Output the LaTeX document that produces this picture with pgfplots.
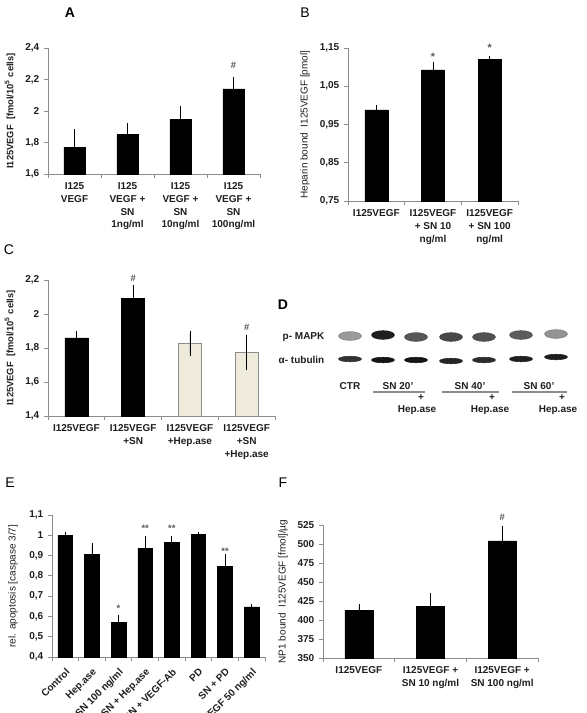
\documentclass[border=0pt]{standalone}
\usepackage{fontspec}
\setmainfont{Liberation Sans}
\usepackage{pgfplots}
\pgfplotsset{compat=1.18}

\definecolor{beige}{HTML}{EEEADC}
\definecolor{axgray}{HTML}{8C8C8C}
\definecolor{txt}{HTML}{1E1E1E}
\definecolor{annot}{HTML}{555555}

\pgfplotsset{
  panel/.style={
    scale only axis, anchor=south west, clip=false,
    axis x line*=bottom, axis y line*=left,
    axis line style={axgray, line width=0.6pt},
    tick align=outside,
    major tick length=3pt, minor tick length=3pt,
    every tick/.style={axgray, line width=0.6pt},
    major x tick style={draw=none},
    tick label style={font=\bfseries\fontsize{7.5}{9.5}\selectfont, text=txt},
    /pgf/number format/use comma,
    /pgf/number format/assume math mode=true,
    xticklabel style={align=center},
    xmin=0.5,
    ylabel style={anchor=center, text=txt},
  },
  mybar/.style={ybar, bar shift=0pt, bar width=#1, fill=black, draw=black,
    error bars/y dir=plus, error bars/y explicit,
    error bars/error bar style={black, line width=0.5pt},
    error bars/error mark options={black, mark size=1.6pt, line width=0.5pt}},
}

\begin{document}
\begin{tikzpicture}
\useasboundingbox (0,0) rectangle (439.5pt,-534.75pt);
\clip (0,0) rectangle (439.5pt,-534.75pt);

% ---------------- A ----------------
\begin{axis}[panel, at={(36pt,-130.5pt)}, width=159pt, height=94.5pt,
  xmax=4.5, ymin=1.6, ymax=2.4, ytick={1.6,1.8,2,2.2,2.4},
  xtick={1,2,3,4}, minor xtick={0.5,1.5,2.5,3.5,4.5},
  xticklabels={{I125\\VEGF},{I125\\VEGF +\\SN\\1ng/ml},{I125\\VEGF +\\SN\\10ng/ml},{I125\\VEGF +\\SN\\100ng/ml}},
  ylabel={I125VEGF\ \ [fmol/10\textsuperscript{5} cells]},
  ylabel style={at={(axis description cs:-0.179,0.5)}, font=\bfseries\fontsize{7}{8}\selectfont},
]
\addplot[mybar=15.75pt] coordinates {(1,1.77) +- (0,0.10) (2,1.85) +- (0,0.06) (3,1.945) +- (0,0.075) (4,2.14) +- (0,0.065)};
\node[font=\bfseries\fontsize{7}{8}\selectfont, text=annot] at (axis cs:4,2.29) {\#};
\end{axis}

% ---------------- B ----------------
\begin{axis}[panel, at={(261pt,-150.75pt)}, width=127.5pt, height=114.75pt,
  xmax=3.5, ymin=0.75, ymax=1.15, ytick={0.75,0.85,0.95,1.05,1.15},
  xtick={1,2,3}, minor xtick={0.5,1.5,2.5,3.5},
  xticklabels={{I125VEGF},{I125VEGF\\+ SN 10\\ng/ml},{I125VEGF\\+ SN 100\\ng/ml}},
  ylabel={Heparin bound\ \ I125VEGF [pmol]},
  ylabel style={at={(axis description cs:-0.253,0.5)}, font=\fontsize{7.5}{8}\selectfont},
]
\addplot[mybar=17.25pt] coordinates {(1,0.988) +- (0,0.008) (2,1.093) +- (0,0.014) (3,1.12) +- (0,0.004)};
\node[font=\bfseries\fontsize{8}{8}\selectfont, text=annot] at (axis cs:2,1.127) {*};
\node[font=\bfseries\fontsize{8}{8}\selectfont, text=annot] at (axis cs:3,1.15) {*};
\end{axis}

% ---------------- C ----------------
\begin{axis}[panel, at={(36pt,-312pt)}, width=170.25pt, height=102pt,
  xmax=4.5, ymin=1.4, ymax=2.2, ytick={1.4,1.6,1.8,2,2.2},
  xtick={1,2,3,4}, minor xtick={0.5,1.5,2.5,3.5,4.5},
  xticklabels={{I125VEGF},{I125VEGF\\+SN},{I125VEGF\\+Hep.ase},{I125VEGF\\+SN\\+Hep.ase}},
  ylabel={I125VEGF\ \ [fmol/10\textsuperscript{5} cells]},
  ylabel style={at={(axis description cs:-0.167,0.5)}, font=\bfseries\fontsize{7}{8}\selectfont},
]
\addplot[mybar=17.25pt] coordinates {(1,1.86) +- (0,0.03) (2,2.09) +- (0,0.07)};
\addplot[mybar=17.25pt, fill=beige, draw=axgray, error bars/y dir=both] coordinates {(3,1.825) +- (0,0.06) (4,1.775) +- (0,0.09)};
\node[font=\bfseries\fontsize{7}{8}\selectfont, text=annot] at (axis cs:2,2.21) {\#};
\node[font=\bfseries\fontsize{7}{8}\selectfont, text=annot] at (axis cs:4,1.92) {\#};
\end{axis}

% ---------------- D (blot) ----------------
\begin{axis}[scale only axis, anchor=south west, at={(247.5pt,-311.25pt)},
  width=187.5pt, height=71.25pt, hide axis, clip=false,
  xmin=330, xmax=580, ymin=320, ymax=415, y dir=reverse,
  colormap={blot}{gray(0cm)=(0.08); gray(1cm)=(0.88)},
  point meta min=0, point meta max=1]
% p-MAPK bands
\addplot[scatter, only marks, mark=*, scatter src=explicit, mark size=2.6pt,
  mark options={xscale=3.3, yscale=1.25}] table[meta=c] {
x y c
350 336 0.65
383 335 0.05
416 337 0.32
451 337 0.25
484 337 0.30
521 335 0.35
556 334 0.62
};
% alpha-tubulin bands
\addplot[scatter, only marks, mark=*, scatter src=explicit, mark size=2.6pt,
  mark options={xscale=3.3, yscale=0.8}] table[meta=c] {
x y c
350 359 0.15
383 360 0.0
416 360 0.0
451 361 0.08
484 360 0.12
521 359 0.05
556 357 0.05
};
\addplot[axgray, line width=0.9pt, no marks] coordinates {(373,392) (425,392)};
\addplot[axgray, line width=0.9pt, no marks] coordinates {(442,392) (499,392)};
\addplot[axgray, line width=0.9pt, no marks] coordinates {(512,392) (567,392)};
\begin{scope}[every node/.style={font=\bfseries\fontsize{7.5}{9}\selectfont, text=txt}]
\node at (axis cs:350,386) {CTR};
\node at (axis cs:398,386) {SN 20'};
\node at (axis cs:470,386) {SN 40'};
\node at (axis cs:539,386) {SN 60'};
\node at (axis cs:421,398) {+};
\node at (axis cs:492,398) {+};
\node at (axis cs:562,398) {+};
\node at (axis cs:417,410) {Hep.ase};
\node at (axis cs:490,410) {Hep.ase};
\node at (axis cs:558,410) {Hep.ase};
\end{scope}
\end{axis}

% ---------------- E ----------------
\begin{axis}[panel, at={(39pt,-492.75pt)}, width=159.75pt, height=106.5pt,
  xmax=8.5, ymin=0.4, ymax=1.1, ytick={0.4,0.5,0.6,0.7,0.8,0.9,1,1.1},
  xtick={1,...,8}, minor xtick={0.5,1.5,...,8.5},
  xticklabels={Control,Hep.ase,SN 100 ng/ml,SN + Hep.ase,SN + VEGF-Ab,PD,SN + PD,VEGF 50 ng/ml},
  xticklabel style={rotate=45, anchor=north east, align=right},
  ylabel={rel. apoptosis [caspase 3/7]},
  ylabel style={at={(axis description cs:-0.183,0.5)}, font=\fontsize{7.5}{8}\selectfont},
]
\addplot[mybar=11pt] coordinates {(1,1.0) +- (0,0.005) (2,0.905) +- (0,0.045) (3,0.57) +- (0,0.025) (4,0.935) +- (0,0.05) (5,0.965) +- (0,0.02) (6,1.004) +- (0,0.0) (7,0.845) +- (0,0.05) (8,0.647) +- (0,0.003)};
\node[font=\bfseries\fontsize{7}{8}\selectfont, text=annot] at (axis cs:3,0.64) {*};
\node[font=\bfseries\fontsize{7}{8}\selectfont, text=annot] at (axis cs:4,1.035) {**};
\node[font=\bfseries\fontsize{7}{8}\selectfont, text=annot] at (axis cs:5,1.035) {**};
\node[font=\bfseries\fontsize{7}{8}\selectfont, text=annot] at (axis cs:7,0.92) {**};
\end{axis}

% ---------------- F ----------------
\begin{axis}[panel, at={(242.25pt,-493.5pt)}, width=161.25pt, height=99.75pt,
  xmax=3.5, ymin=350, ymax=525, ytick={350,375,400,425,450,475,500,525},
  xtick={1,2,3}, minor xtick={0.5,1.5,2.5,3.5},
  xticklabels={{I125VEGF},{I125VEGF +\\SN 10 ng/ml},{I125VEGF +\\SN 100 ng/ml}},
  ylabel={NP1 bound\ \ I125VEGF [fmol]/µg},
  ylabel style={at={(axis description cs:-0.186,0.5)}, font=\fontsize{7.5}{8}\selectfont},
]
\addplot[mybar=21pt] coordinates {(1,413) +- (0,5) (2,418) +- (0,15) (3,504) +- (0,17)};
\node[font=\bfseries\fontsize{7}{8}\selectfont, text=annot] at (axis cs:3,535) {\#};
\end{axis}

% ---------------- panel letters and blot labels ----------------
\begin{scope}[x=0.75pt, y=-0.75pt]
\node[font=\bfseries\fontsize{10.5}{12}\selectfont] at (70,13) {A};
\node[font=\fontsize{10.5}{12}\selectfont] at (305,13) {B};
\node[font=\fontsize{10.5}{12}\selectfont] at (9,250) {C};
\node[font=\bfseries\fontsize{10.5}{12}\selectfont] at (283,305) {D};
\node[font=\fontsize{10.5}{12}\selectfont] at (10,483) {E};
\node[font=\fontsize{10.5}{12}\selectfont] at (283,483) {F};
\node[anchor=west, font=\bfseries\fontsize{7.5}{9}\selectfont, text=txt] at (278,337) {p- MAPK};
\node[anchor=west, font=\bfseries\fontsize{7.5}{9}\selectfont, text=txt] at (274,360) {α- tubulin};
\end{scope}
\end{tikzpicture}
\end{document}
